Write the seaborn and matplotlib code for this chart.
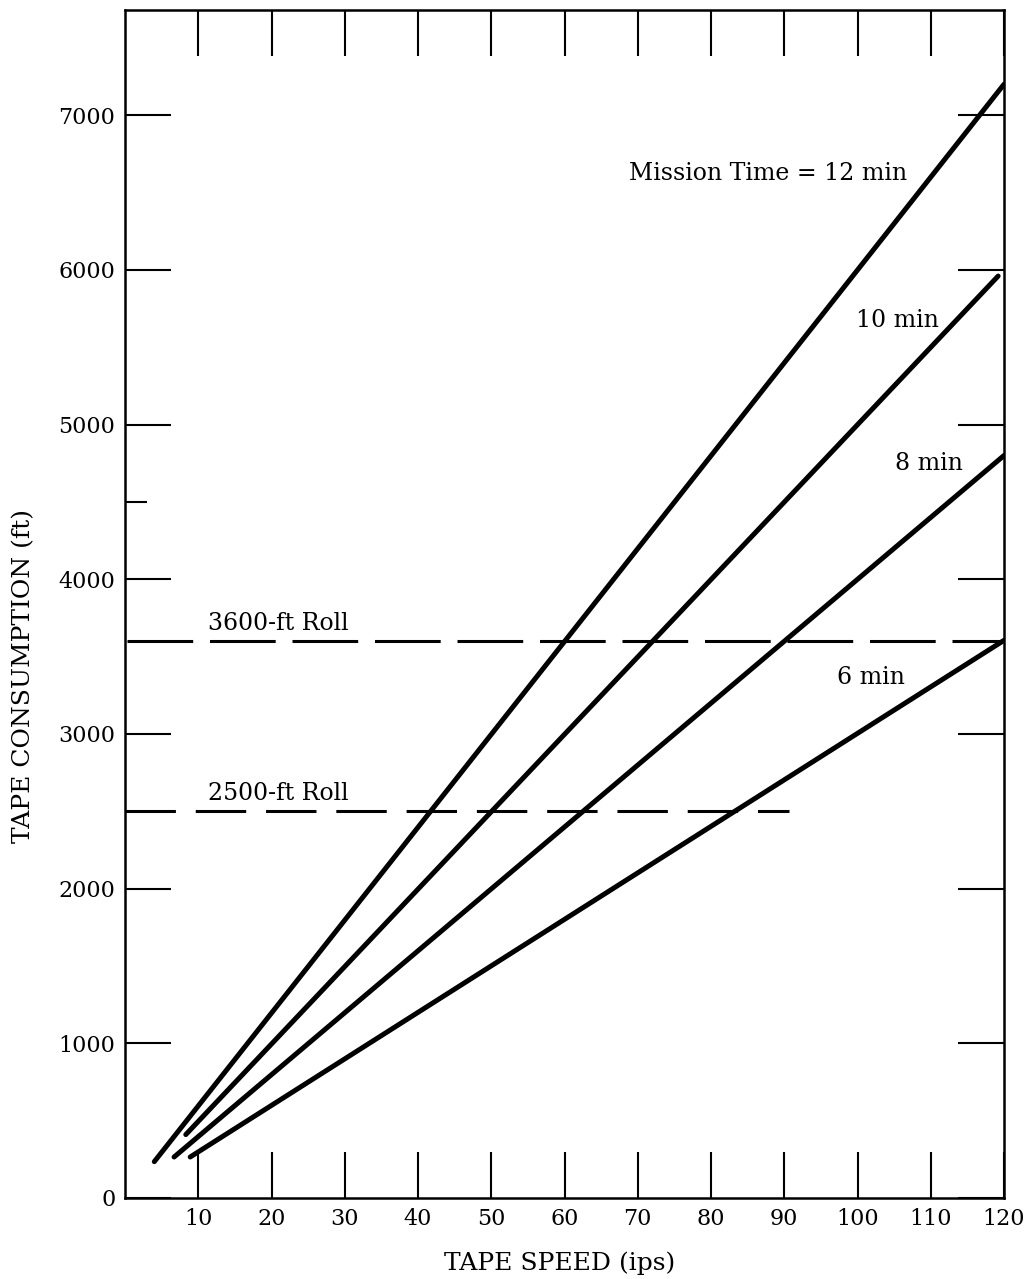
import numpy as np
import pandas as pd
import matplotlib
matplotlib.use("Agg")
import matplotlib.pyplot as plt
import seaborn as sns

# ---- data ----
missions = ["12 min", "10 min", "8 min", "6 min"]
speed_start = [4.0, 8.3, 6.7, 8.9]          # ips at start of each line
speed_end = [120.0, 119.2, 120.0, 120.0]     # ips at end of each line
feet_start = [235, 410, 265, 265]            # ft at start
feet_end = [7200, 5960, 4800, 3605]          # ft at end

roll_feet = [3600, 2500]
roll_x_start = [0.3, 0.0]
roll_x_end = [120.0, 90.6]
roll_labels = ["3600-ft Roll", "2500-ft Roll"]

x_ticks = [10, 20, 30, 40, 50, 60, 70, 80, 90, 100, 110, 120]
y_ticks = [0, 1000, 2000, 3000, 4000, 5000, 6000, 7000]
y_minor = [4500]

mission_labels = ["Mission Time = 12 min", "10 min", "8 min", "6 min"]
label_x = [87.8, 105.5, 109.8, 101.9]
label_y = [6620, 5670, 4750, 3365]

# ---- build long-form table ----
rows = []
for m, xs, xe, ys, ye in zip(missions, speed_start, speed_end, feet_start, feet_end):
    rows.append({"mission": m, "speed": xs, "feet": ys})
    rows.append({"mission": m, "speed": xe, "feet": ye})
df = pd.DataFrame(rows)

sns.set_theme(style="white")
plt.rcParams["font.family"] = ["DejaVu Serif"]
plt.rcParams["axes.edgecolor"] = "black"

fig = plt.figure(figsize=(10.29, 12.79), dpi=100)
ax = fig.add_axes([125 / 1029, 1 - 1198 / 1279, (1004 - 125) / 1029, (1198 - 10) / 1279])

sns.lineplot(data=df, x="speed", y="feet", hue="mission", units="mission",
             estimator=None, palette=["black"] * 4, legend=False,
             linewidth=3.6, ax=ax, solid_capstyle="round", sort=False)

# roll reference lines
ax.plot([roll_x_start[0], roll_x_end[0]], [roll_feet[0]] * 2, color="black",
        linewidth=2.2, dashes=(21.5, 5.5), dash_capstyle="butt")
ax.plot([roll_x_start[1], roll_x_end[1]], [roll_feet[1]] * 2, color="black",
        linewidth=2.2, dashes=(16.5, 6.5), dash_capstyle="butt")

fs_tick = 16
fs_ann = 17
fs_lab = 18
for lab, fy in zip(roll_labels, roll_feet):
    ax.text(20.9, fy + 115, lab, ha="center", va="center", fontsize=fs_ann, color="black")

for lab, lx, ly in zip(mission_labels, label_x, label_y):
    ax.text(lx, ly, lab, ha="center", va="center", fontsize=fs_ann, color="black")

ax.set_xlim(0, 120)
ax.set_ylim(0, 7680)
ax.set_xticks(x_ticks)
ax.set_xticklabels([str(v) for v in x_ticks])
ax.set_yticks(y_ticks)
ax.set_yticklabels([str(v) for v in y_ticks])
ax.set_yticks(y_minor, minor=True)
ax.set_xlabel("")
ax.set_ylabel("")

ax.tick_params(axis="both", which="major", direction="in", length=33, width=1.5,
               color="black", labelsize=fs_tick, labelcolor="black", pad=7)
ax.tick_params(axis="x", which="major", top=True, bottom=True)
ax.tick_params(axis="y", which="major", left=True, right=True)
ax.tick_params(axis="y", which="minor", direction="in", left=True, right=False,
               length=16, width=1.5, color="black")
ax.tick_params(axis="x", which="minor", top=False, bottom=False)

for s in ax.spines.values():
    s.set_visible(True)
    s.set_linewidth(1.8)
    s.set_color("black")

fig.text(24 / 1029, 1 - 676 / 1279, "TAPE CONSUMPTION (ft)", rotation=90,
         ha="center", va="center", fontsize=fs_lab, color="black")
fig.text(560 / 1029, 1 - 1263 / 1279, "TAPE SPEED (ips)", ha="center", va="center",
         fontsize=fs_lab, color="black")

fig.savefig("out.png", dpi=100, facecolor="white")
